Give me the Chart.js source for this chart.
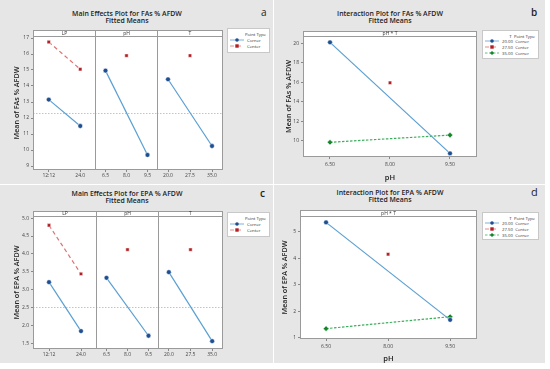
<!DOCTYPE html>
<html>
<head>
<meta charset="utf-8">
<script src="https://cdn.jsdelivr.net/npm/chart.js@4.4.1/dist/chart.umd.min.js"></script>
<style>
  body { margin: 0; background: #fff; font-family: "Open Sans", sans-serif; }
  #wrap { position: relative; width: 550px; height: 369px; overflow: hidden; }
  .panel { position: absolute; background: #e6e6e6; }
  .title { position: absolute; text-align: center; font-weight: 600; color: #222; font-size: 6.9px; line-height: 6.7px; white-space: nowrap; }
  .letter { position: absolute; font-size: 10px; color: #222; }
  .legend { position: absolute; background: #fff; border: 1px solid #c8c8c8; font-size: 4.3px; color: #333; }
  .legend .hd { position: absolute; right: 3px; top: 2px; }
  .legend .row { position: absolute; left: 2px; height: 6px; }
  .legend .row span { position: absolute; left: 17px; top: 0; white-space: nowrap; line-height: 6px; }
  canvas { position: absolute; }
</style>
</head>
<body>
<div id="wrap">
  <div class="panel" style="left:0;top:0;width:273px;height:184px"></div>
  <div class="panel" style="left:274px;top:0;width:271px;height:184px"></div>
  <div class="panel" style="left:0;top:185px;width:273px;height:178px"></div>
  <div class="panel" style="left:274px;top:185px;width:271px;height:178px"></div>

  <div class="title" style="left:27px;top:11px;width:200px">Main Effects Plot for FAs % AFDW<br>Fitted Means</div>
  <div class="letter" style="left:261px;top:5px">a</div>
  <div class="title" style="left:290px;top:11px;width:200px">Interaction Plot for FAs % AFDW<br>Fitted Means</div>
  <div class="letter" style="left:531px;top:5px;font-weight:600">b</div>
  <div class="title" style="left:27px;top:191px;width:200px">Main Effects Plot for EPA % AFDW<br>Fitted Means</div>
  <div class="letter" style="left:260px;top:186px;font-weight:600">c</div>
  <div class="title" style="left:290px;top:190px;width:200px">Interaction Plot for EPA % AFDW<br>Fitted Means</div>
  <div class="letter" style="left:531px;top:184px;font-size:11px">d</div>

  <canvas id="a1" width="92" height="152" style="left:4px;top:30px"></canvas>
  <canvas id="a2" width="63" height="152" style="left:95px;top:30px"></canvas>
  <canvas id="a3" width="66" height="152" style="left:157px;top:30px"></canvas>
  <canvas id="b" width="201" height="151" style="left:277px;top:31px"></canvas>
  <canvas id="c1" width="93" height="150" style="left:4px;top:211px"></canvas>
  <canvas id="c2" width="63" height="150" style="left:96px;top:211px"></canvas>
  <canvas id="c3" width="65" height="150" style="left:158px;top:211px"></canvas>
  <canvas id="d" width="204" height="153" style="left:274px;top:210px"></canvas>

  <div id="legA" class="legend" style="left:227px;top:28px;width:41px;height:23px"></div>
  <div id="legB" class="legend" style="left:482px;top:30px;width:55px;height:27px"></div>
  <div id="legC" class="legend" style="left:227px;top:212px;width:41px;height:23px"></div>
  <div id="legD" class="legend" style="left:482px;top:212px;width:55px;height:26px"></div>
</div>

<script>
// ----- data: FAs main effects -----
const lpLevels = ["12:12", "24.0"]
const phLevels = ["6.5", "8.0", "9.5"]
const tLevels = ["20.0", "27.5", "35.0"]

const faLpCorner = [13.15, 11.5]
const faLpCenter = [16.75, 15.05]
const faPhCorner = [14.96, null, 9.69]
const faPhCenter = [null, 15.9, null]
const faTCorner = [14.42, null, 10.25]
const faTCenter = [null, 15.9, null]
const faMean = 12.33
const faTicks = [9, 10, 11, 12, 13, 14, 15, 16, 17]

// ----- data: EPA main effects -----
const epaLpCorner = [3.21, 1.84]
const epaLpCenter = [4.8, 3.44]
const epaPhCorner = [3.33, null, 1.71]
const epaPhCenter = [null, 4.12, null]
const epaTCorner = [3.49, null, 1.56]
const epaTCenter = [null, 4.12, null]
const epaMean = 2.52
const epaTicks = [1.5, 2.0, 2.5, 3.0, 3.5, 4.0, 4.5, 5.0]

// ----- data: interaction pH * T -----
const phValues = [6.5, 8.0, 9.5]
const phTickLabels = ["6.50", "8.00", "9.50"]
const tGroups = ["20.00", "27.50", "35.00"]
const pointTypes = ["Corner", "Center", "Corner"]
const faT20 = [20.1, null, 8.7]
const faT275 = [null, 15.95, null]
const faT35 = [9.84, null, 10.58]
const faIntTicks = [10, 12, 14, 16, 18, 20]
const epaT20 = [5.35, null, 1.68]
const epaT275 = [null, 4.15, null]
const epaT35 = [1.35, null, 1.8]
const epaIntTicks = [1, 2, 3, 4, 5]

// ----- styles -----
const BLUE = { line: "#5a9fd2", mark: "#1d4f91", shape: "circle", dash: [] }
const RED = { line: "#e07070", mark: "#b21f24", shape: "rect", dash: [4, 3] }
const GREEN = { line: "#3cae5c", mark: "#15852a", shape: "rectRot", dash: [2.5, 1.5] }
const FONT = "'Open Sans', sans-serif"

// frame, strip header and mean line
const framePlugin = {
  id: "frame",
  beforeDatasetsDraw(chart, args, opts) {
    const { ctx, chartArea: a } = chart
    ctx.save()
    ctx.fillStyle = "#fff"
    ctx.fillRect(a.left, a.top - opts.strip, a.right - a.left, a.bottom - a.top + opts.strip)
    if (opts.mean != null) {
      const y = Math.round(chart.scales.y.getPixelForValue(opts.mean)) + 0.5
      ctx.strokeStyle = "#b4b4b4"
      ctx.lineWidth = 0.8
      ctx.setLineDash([1.5, 1.5])
      ctx.beginPath()
      ctx.moveTo(a.left, y)
      ctx.lineTo(a.right, y)
      ctx.stroke()
      ctx.setLineDash([])
    }
    ctx.strokeStyle = "#9a9a9a"
    ctx.lineWidth = 1
    ctx.strokeRect(a.left + 0.5, a.top - opts.strip + 0.5, a.right - a.left - 1, a.bottom - a.top + opts.strip - 1)
    ctx.beginPath()
    ctx.moveTo(a.left, a.top + 0.5)
    ctx.lineTo(a.right, a.top + 0.5)
    ctx.stroke()
    ctx.fillStyle = "#333"
    ctx.font = "5px " + FONT
    ctx.textAlign = "center"
    ctx.textBaseline = "middle"
    ctx.fillText(opts.label, (a.left + a.right) / 2, a.top - opts.strip / 2 + 0.5)
    ctx.restore()
  }
}

function ds(values, st, xs) {
  return {
    data: xs ? values.map((v, i) => ({ x: xs[i], y: v })) : values,
    borderColor: st.line,
    borderWidth: 1.2,
    borderDash: st.dash,
    pointStyle: st.shape,
    pointBackgroundColor: st.mark,
    pointBorderColor: "#fff",
    pointBorderWidth: 0.5,
    pointRadius: st.shape === "rectRot" ? 2.8 : 2.4,
    spanGaps: true,
    tension: 0
  }
}

function yScale(range, ticks, show, title, width, fmt, tpad) {
  return {
    display: show,
    min: range[0],
    max: range[1],
    afterBuildTicks: s => { s.ticks = ticks.map(v => ({ value: v })) },
    afterFit: s => { s.width = show ? width : 0; s.paddingTop = 0; s.paddingBottom = 0 },
    grid: { display: show, drawOnChartArea: false, tickLength: 2, color: "#888" },
    border: { display: false },
    ticks: { font: { size: 5, family: FONT }, color: "#444", padding: 2, callback: fmt || (v => v) },
    title: { display: show, text: title, font: { size: 7.2, weight: "600", family: FONT }, color: "#222", padding: { top: tpad || 0, bottom: 0 } }
  }
}

function facet(id, labels, corner, center, opts) {
  new Chart(document.getElementById(id), {
    type: "line",
    data: { labels, datasets: [ds(corner, BLUE), ds(center, RED)] },
    options: {
      responsive: false,
      animation: false,
      layout: { autoPadding: false, padding: { top: opts.strip, left: 0, right: 0, bottom: 0 } },
      plugins: {
        legend: { display: false },
        tooltip: { enabled: false },
        frame: { strip: opts.strip, label: opts.label, mean: opts.mean }
      },
      scales: {
        x: {
          offset: true,
          afterFit: s => { s.height = 12; s.paddingLeft = 0; s.paddingRight = 0 },
          grid: { display: true, drawOnChartArea: false, tickLength: 2, color: "#888" },
          border: { display: false },
          ticks: { font: { size: 5, family: FONT }, color: "#444", padding: 1, maxRotation: 0, autoSkip: false }
        },
        y: yScale(opts.range, opts.ticks, !!opts.title, opts.title || "", 29, opts.fmt, 9)
      }
    },
    plugins: [framePlugin]
  })
}

function interaction(id, series, opts) {
  new Chart(document.getElementById(id), {
    type: "line",
    data: { datasets: [ds(series[0], BLUE, phValues), ds(series[1], RED, phValues), ds(series[2], GREEN, phValues)] },
    options: {
      responsive: false,
      animation: false,
      layout: { autoPadding: false, padding: { top: opts.strip, left: 0, right: 1, bottom: 0 } },
      plugins: {
        legend: { display: false },
        tooltip: { enabled: false },
        frame: { strip: opts.strip, label: "pH * T", mean: null }
      },
      scales: {
        x: {
          type: "linear",
          min: opts.xRange[0],
          max: opts.xRange[1],
          afterBuildTicks: s => { s.ticks = phValues.map(v => ({ value: v })) },
          afterFit: s => { s.height = opts.xh; s.paddingLeft = 0; s.paddingRight = 0 },
          grid: { display: true, drawOnChartArea: false, tickLength: 2, color: "#888" },
          border: { display: false },
          ticks: { font: { size: 5, family: FONT }, color: "#444", padding: 3, callback: (v, i) => phTickLabels[i] },
          title: { display: true, text: "pH", font: { size: 7.5, weight: "600", family: FONT }, color: "#222", padding: 0 }
        },
        y: yScale(opts.range, opts.ticks, true, opts.title, opts.yw, null, opts.tpad)
      }
    },
    plugins: [framePlugin]
  })
}

// ----- panel a -----
const aRange = [8.75, 17.125]
facet("a1", lpLevels, faLpCorner, faLpCenter, { strip: 6, label: "LP", mean: faMean, range: aRange, ticks: faTicks, title: "Mean of FAs % AFDW" })
facet("a2", phLevels, faPhCorner, faPhCenter, { strip: 6, label: "pH", mean: faMean, range: aRange, ticks: faTicks })
facet("a3", tLevels, faTCorner, faTCenter, { strip: 6, label: "T", mean: faMean, range: aRange, ticks: faTicks })

// ----- panel c -----
const cRange = [1.34, 5.06]
const oneDec = v => Number(v).toFixed(1)
facet("c1", lpLevels, epaLpCorner, epaLpCenter, { strip: 5, label: "LP", mean: epaMean, range: cRange, ticks: epaTicks, title: "Mean of EPA % AFDW", fmt: oneDec })
facet("c2", phLevels, epaPhCorner, epaPhCenter, { strip: 5, label: "pH", mean: epaMean, range: cRange, ticks: epaTicks })
facet("c3", tLevels, epaTCorner, epaTCenter, { strip: 5, label: "T", mean: epaMean, range: cRange, ticks: epaTicks })

// ----- panels b, d -----
interaction("b", [faT20, faT275, faT35], { strip: 5, range: [8.33, 20.75], ticks: faIntTicks, title: "Mean of FAs % AFDW", xRange: [5.825, 10.175], xh: 25, yw: 26, tpad: 8 })
interaction("d", [epaT20, epaT275, epaT35], { strip: 6, range: [0.96, 5.59], ticks: epaIntTicks, title: "Mean of EPA % AFDW", xRange: [5.87, 10.15], xh: 24, yw: 26, tpad: 7 })

// ----- legends (html) -----
function swatch(st) {
  const dash = st.dash.length ? `stroke-dasharray="${st.dash.join(",")}"` : ""
  let mk
  if (st.shape === "circle") mk = `<circle cx="7" cy="3" r="1.8" fill="${st.mark}"/>`
  else if (st.shape === "rect") mk = `<rect x="5.3" y="1.3" width="3.4" height="3.4" fill="${st.mark}"/>`
  else mk = `<rect x="5.5" y="1.5" width="3" height="3" fill="${st.mark}" transform="rotate(45 7 3)"/>`
  return `<svg width="15" height="6" style="position:absolute;left:0;top:0"><line x1="0" y1="3" x2="14" y2="3" stroke="${st.line}" stroke-width="0.8" ${dash}/>${mk}</svg>`
}

function legend(id, header, rows, top0) {
  const el = document.getElementById(id)
  let html = `<div class="hd">${header}</div>`
  rows.forEach((r, i) => {
    html += `<div class="row" style="top:${top0 + i * 6}px">${swatch(r.st)}<span>${r.text}</span></div>`
  })
  el.innerHTML = html
}

const mainRows = [{ st: BLUE, text: "Corner" }, { st: RED, text: "Center" }]
const intRows = [BLUE, RED, GREEN].map((st, i) => ({ st, text: tGroups[i] + "&nbsp;&nbsp;" + pointTypes[i] }))
legend("legA", "Point Type", mainRows, 8)
legend("legC", "Point Type", mainRows, 8)
legend("legB", "T&nbsp;&nbsp;Point Type", intRows, 7)
legend("legD", "T&nbsp;&nbsp;Point Type", intRows, 7)
</script>
</body>
</html>
